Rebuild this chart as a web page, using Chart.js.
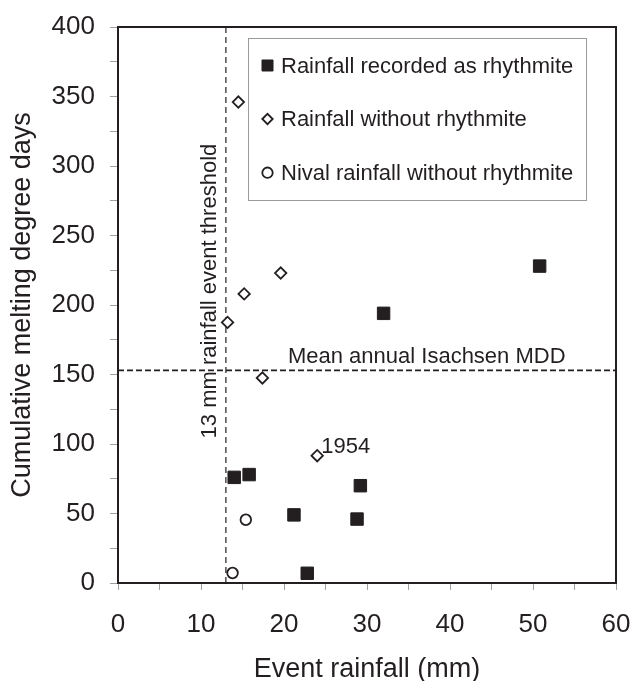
<!DOCTYPE html>
<html>
<head>
<meta charset="utf-8">
<script src="https://cdn.jsdelivr.net/npm/chart.js@4.4.1/dist/chart.umd.min.js"></script>
<style>
  html, body { margin: 0; padding: 0; background: #ffffff; }
  #wrap { width: 640px; height: 681px; position: relative; }
</style>
</head>
<body>
<div id="wrap"><canvas id="c" width="640" height="681"></canvas></div>
<script>
// ---- data ----
const seriesNames = ['Rainfall recorded as rhythmite', 'Rainfall without rhythmite', 'Nival rainfall without rhythmite'];
const rhythmiteRain = [32.0, 50.8, 14.0, 15.8, 29.2, 21.2, 28.8, 22.8];
const rhythmiteMDD  = [194, 228, 76, 78, 70, 49, 46, 7];
const withoutRain   = [14.5, 19.6, 15.2, 13.2, 17.4, 24.0];
const withoutMDD    = [346, 223, 208, 187.5, 147.5, 91.6];
const nivalRain     = [15.4, 13.8];
const nivalMDD      = [45.5, 7.2];
const meanAnnualMDD = 153;
const rainThreshold = 13;
const xTickValues = [0, 10, 20, 30, 40, 50, 60];
const yTickValues = [0, 50, 100, 150, 200, 250, 300, 350, 400];
const xTitle = 'Event rainfall (mm)';
const yTitle = 'Cumulative melting degree days';
const mddLabel = 'Mean annual Isachsen MDD';
const thresholdLabel = '13 mm rainfall event threshold';
const yearLabel = '1954';
const yearLabelIndex = 5; // index in withoutRain / withoutMDD

const INK = '#231f20';
const FONT = '"Liberation Sans", Arial, Helvetica, sans-serif';

function pts(xs, ys) { return xs.map((x, i) => ({ x: x, y: ys[i] })); }

const datasets = [
  {
    label: seriesNames[0], data: pts(rhythmiteRain, rhythmiteMDD),
    pointStyle: 'rect', pointRadius: 8.8, pointBorderWidth: 1,
    backgroundColor: INK, borderColor: INK, showLine: false, order: 1
  },
  {
    label: seriesNames[1], data: pts(withoutRain, withoutMDD),
    pointStyle: 'rectRot', pointRadius: 5.7, pointBorderWidth: 1.8,
    backgroundColor: '#ffffff', borderColor: INK, showLine: false, order: 1
  },
  {
    label: seriesNames[2], data: pts(nivalRain, nivalMDD),
    pointStyle: 'circle', pointRadius: 5.3, pointBorderWidth: 1.8,
    backgroundColor: '#ffffff', borderColor: INK, showLine: false, order: 1
  },
  {
    label: '', data: [{ x: 0, y: meanAnnualMDD }, { x: 60, y: meanAnnualMDD }],
    showLine: true, pointRadius: 0, borderColor: INK, borderWidth: 1.6,
    borderDash: [6, 3], fill: false, order: 2
  },
  {
    label: '', data: [{ x: rainThreshold, y: 0 }, { x: rainThreshold, y: 400 }],
    showLine: true, pointRadius: 0, borderColor: INK, borderWidth: 1.2,
    borderDash: [6, 4], fill: false, order: 2
  }
];

function drawMarker(ctx, style, x, y, r, bw, fill, stroke) {
  ctx.save();
  ctx.lineWidth = bw; ctx.fillStyle = fill; ctx.strokeStyle = stroke;
  ctx.beginPath();
  if (style === 'rect') {
    const s = Math.SQRT1_2 * r; ctx.rect(x - s, y - s, 2 * s, 2 * s);
  } else if (style === 'rectRot') {
    ctx.moveTo(x - r, y); ctx.lineTo(x, y - r); ctx.lineTo(x + r, y); ctx.lineTo(x, y + r); ctx.closePath();
  } else {
    ctx.arc(x, y, r, 0, Math.PI * 2);
  }
  ctx.fill(); ctx.stroke();
  ctx.restore();
}

const decor = {
  id: 'decor',
  afterDraw(chart) {
    const { ctx, chartArea: a, scales: { x, y } } = chart;
    ctx.save();
    // top and right frame
    ctx.strokeStyle = INK; ctx.lineWidth = 2;
    ctx.beginPath();
    ctx.moveTo(a.left - 1, a.top); ctx.lineTo(a.right, a.top); ctx.lineTo(a.right, a.bottom + 1);
    ctx.stroke();

    ctx.fillStyle = INK;
    ctx.font = '22px ' + FONT;
    // mean annual MDD label
    ctx.textAlign = 'center'; ctx.textBaseline = 'alphabetic';
    ctx.fillText(mddLabel, x.getPixelForValue(37.2), y.getPixelForValue(meanAnnualMDD) - 7);
    // 1954 label
    ctx.textAlign = 'left'; ctx.textBaseline = 'middle';
    ctx.fillText(yearLabel, x.getPixelForValue(withoutRain[yearLabelIndex]) + 4,
                 y.getPixelForValue(withoutMDD[yearLabelIndex]) - 9);
    // threshold label (rotated)
    ctx.save();
    ctx.translate(x.getPixelForValue(rainThreshold) - 16, y.getPixelForValue(210));
    ctx.rotate(-Math.PI / 2);
    ctx.textAlign = 'center'; ctx.textBaseline = 'middle';
    ctx.fillText(thresholdLabel, 0, 0);
    ctx.restore();

    // legend box
    const lx = a.left + 130, ly = a.top + 11, lw = 338, lh = 162;
    ctx.fillStyle = '#ffffff';
    ctx.fillRect(lx, ly, lw, lh);
    ctx.strokeStyle = '#9a9a9a'; ctx.lineWidth = 1;
    ctx.strokeRect(lx + 0.5, ly + 0.5, lw, lh);
    const rowY = [27.5, 81, 134.7];
    chart.data.datasets.slice(0, 3).forEach((ds, i) => {
      const cy = ly + rowY[i];
      const r = ds.pointStyle === 'rect' ? 7.8 : 5.2;
      drawMarker(ctx, ds.pointStyle, lx + 19.5, cy, r, ds.pointBorderWidth,
                 ds.backgroundColor, ds.borderColor);
      ctx.fillStyle = INK; ctx.font = '22px ' + FONT;
      ctx.textAlign = 'left'; ctx.textBaseline = 'middle';
      ctx.fillText(ds.label, lx + 33, cy + 1);
    });
    ctx.restore();
  }
};

new Chart(document.getElementById('c'), {
  type: 'scatter',
  data: { datasets: datasets },
  plugins: [decor],
  options: {
    responsive: false,
    animation: false,
    devicePixelRatio: 1,
    layout: { padding: { left: 0, top: 27, right: 24, bottom: 0 } },
    plugins: { legend: { display: false }, tooltip: { enabled: false } },
    scales: {
      x: {
        type: 'linear', min: 0, max: 60,
        afterFit: s => { s.height = 98; s.paddingLeft = 0; s.paddingRight = 0; },
        afterBuildTicks: s => { s.ticks = [0,5,10,15,20,25,30,35,40,45,50,55,60].map(v => ({ value: v })); },
        ticks: {
          color: INK, font: { family: FONT, size: 26 }, padding: 19, maxRotation: 0, autoSkip: false,
          callback: v => xTickValues.includes(v) ? String(v) : ''
        },
        grid: { drawOnChartArea: false, drawTicks: true, tickLength: 7, tickColor: '#a0a0a0', tickWidth: 1 },
        border: { display: true, color: INK, width: 2 },
        title: { display: true, text: xTitle, color: INK, font: { family: FONT, size: 27, lineHeight: 1 }, padding: { top: 0, bottom: -2 } }
      },
      y: {
        type: 'linear', min: 0, max: 400,
        afterFit: s => { s.width = 118; s.paddingTop = 0; s.paddingBottom = 0; },
        afterBuildTicks: s => { const t = []; for (let v = 0; v <= 400; v += 25) t.push({ value: v }); s.ticks = t; },
        ticks: {
          color: INK, font: { family: FONT, size: 26 }, padding: 15, autoSkip: false,
          callback: v => yTickValues.includes(v) ? String(v) : ''
        },
        grid: { drawOnChartArea: false, drawTicks: true, tickLength: 8, tickColor: '#a0a0a0', tickWidth: 1 },
        border: { display: true, color: INK, width: 2 },
        title: { display: true, text: yTitle, color: INK, font: { family: FONT, size: 27, lineHeight: 1 }, padding: { top: 9, bottom: 0 } }
      }
    }
  }
});
</script>
</body>
</html>
